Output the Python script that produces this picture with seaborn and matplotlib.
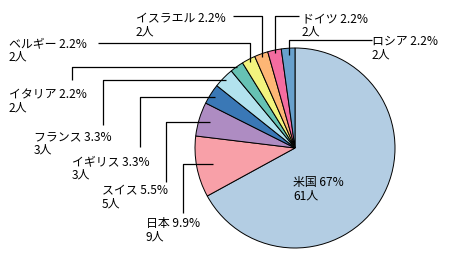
import matplotlib
matplotlib.use("Agg")
import matplotlib.pyplot as plt
import seaborn as sns
import numpy as np

# ---- data ----
countries = ["米国", "日本", "スイス", "イギリス", "フランス", "イタリア", "ベルギー", "イスラエル", "ドイツ", "ロシア"]
persons = [61, 9, 5, 3, 3, 2, 2, 2, 2, 2]
percent_labels = ["67%", "9.9%", "5.5%", "3.3%", "3.3%", "2.2%", "2.2%", "2.2%", "2.2%", "2.2%"]
colors = ["#b3cde3", "#f8a0a8", "#ae8cc2", "#3a78b6", "#b2e2ee", "#66c2b4", "#f2f47e", "#fdb675", "#f46ca0", "#68a0cc"]

sns.set_style("white")
plt.rcParams['font.family'] = ['Noto Sans CJK JP', 'DejaVu Sans']

W, H = 453, 261
fig = plt.figure(figsize=(W / 100, H / 100), dpi=100)
ax = fig.add_axes([0, 0, 1, 1])
ax.set_xlim(0, W)
ax.set_ylim(0, H)
ax.set_aspect("equal")
ax.axis("off")

cx, cy, R = 295, H - 148, 100
wedges, _ = ax.pie(persons, colors=sns.color_palette(colors), startangle=90, counterclock=False,
                   center=(cx, cy), radius=R, frame=True,
                   wedgeprops=dict(edgecolor="black", linewidth=0.7))
ax.set_xlim(0, W)
ax.set_ylim(0, H)
ax.axis("off")

def py(y):
    return H - y

# layout (pixel coords from top-left): text pos, anchor radius fraction, leader path type
layout = {
    "米国":   dict(text=(293, 176), r=None),
    "日本":   dict(text=(146, 217), r=0.84, kind="left", ex=183, ey=213),
    "スイス": dict(text=(102, 184), r=0.89, kind="left", ex=166, ey=182),
    "イギリス": dict(text=(72, 155), r=0.95, kind="left", ex=140, ey=147),
    "フランス": dict(text=(34, 130), r=0.97, kind="left", ex=103, ey=125),
    "イタリア": dict(text=(9, 88), r=1.0, kind="left", ex=72, ey=80),
    "ベルギー": dict(text=(9, 37), r=0.97, kind="up", ey=43, ex=98),
    "イスラエル": dict(text=(136, 12), r=0.97, kind="up", ey=16, ex=233),
    "ドイツ": dict(text=(302, 12), r=0.97, kind="up", ey=16, ex=299),
    "ロシア": dict(text=(372, 35), r=0.93, kind="up", ey=40, ex=372),
}

for w, name, n, pct in zip(wedges, countries, persons, percent_labels):
    L = layout[name]
    label = f"{name} {pct}\n{n}人"
    tx, ty = L["text"]
    ax.text(tx, py(ty), label, ha="left", va="top", fontsize=8.6, linespacing=1.05, color="black")
    if L["r"] is None:
        continue
    ang = np.deg2rad((w.theta1 + w.theta2) / 2)
    axp = cx + L["r"] * R * np.cos(ang)
    ayp = cy + L["r"] * R * np.sin(ang)
    if L["kind"] == "left":
        xs = [axp, L["ex"], L["ex"]]
        ys = [ayp, ayp, py(L["ey"])]
    else:
        xs = [axp, axp, L["ex"]]
        ys = [ayp, py(L["ey"]), py(L["ey"])]
    ax.plot(xs, ys, color="black", linewidth=0.9, solid_capstyle="butt")

fig.savefig("out.png", dpi=100, facecolor="white")
